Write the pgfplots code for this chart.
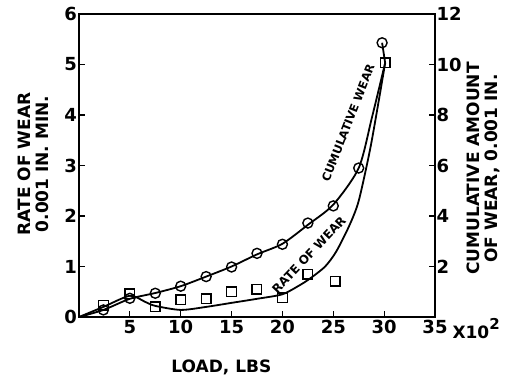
\documentclass[border=0pt]{standalone}
\usepackage{fontspec}
\setmainfont{DejaVu Sans}
\usepackage{pgfplots}
\pgfplotsset{compat=1.18}
\begin{document}
\begin{tikzpicture}
\path[use as bounding box] (-79pt,-60pt) rectangle (441pt,317pt);
\pgfplotsset{
  every axis/.append style={
    scale only axis, width=356pt, height=303pt, at={(0pt,0pt)}, anchor=south west,
    xmin=0, xmax=35, clip=false,
    axis line style={line width=2.2pt, black},
    tick style={line width=1.2pt, black}, major tick length=6pt, tick align=inside,
    /pgf/number format/assume math mode=true,
    tick label style={font=\fontsize{18}{18}\selectfont\bfseries},
    label style={font=\fontsize{17}{18}\selectfont\bfseries},
  },
  curve/.style={black, line width=1.8pt, smooth, tension=0.45, no marks},
}
% ---- left axis: rate of wear ----
\begin{axis}[
  ymin=0, ymax=6, ytick={0,...,6}, ytick pos=left,
  xtick={5,10,...,35}, xtick pos=bottom,
  yticklabel style={inner sep=2pt},
  xticklabel style={inner sep=3pt},
  xlabel={LOAD, LBS},
  xlabel style={at={(axis description cs:0.40,-0.165)}, anchor=center},
  ylabel={RATE OF WEAR\\0.001 IN. MIN.},
  ylabel style={at={(axis description cs:-0.128,0.505)}, anchor=center, rotate=0, align=center},
]
\addplot[curve] coordinates {
  (0,0) (2.4,0.2) (5,0.42) (6.5,0.3) (7.5,0.22) (10,0.14) (12.5,0.2) (15,0.28)
  (17.5,0.36) (20,0.45) (21.7,0.63) (22.7,0.76) (24.2,1.0) (25.3,1.3) (26.6,1.82)
  (27.5,2.3) (28.6,3.3) (29.4,4.2) (30.1,5.03)};
\addplot[only marks, mark=square, mark size=4.8pt, line width=1.4pt, mark options={fill=white}] coordinates {
  (2.4,0.23) (5,0.46) (7.5,0.2) (10,0.34) (12.5,0.36) (15,0.5) (17.5,0.55)
  (20,0.38) (22.5,0.85) (25.2,0.71) (30.1,5.03)};
\node[rotate=68.6, font=\fontsize{11.5}{11.5}\selectfont\bfseries] at (axis cs:26.45,3.84) {CUMULATIVE WEAR};
\node[rotate=46.5, font=\fontsize{12}{12}\selectfont\bfseries] at (axis cs:22.6,1.23) {RATE OF WEAR};
\node[anchor=base west, font=\fontsize{17}{17}\selectfont\bfseries] at (axis description cs:1,0) [xshift=14pt, yshift=-22pt] {X10\raisebox{0.55em}{\fontsize{15}{15}\selectfont 2}};
\end{axis}
% ---- right axis: cumulative amount of wear ----
\begin{axis}[
  ymin=0, ymax=12, ytick={2,4,...,12}, axis y line*=right, axis x line=none,
  yticklabel style={inner sep=1.5pt},
  ylabel={CUMULATIVE AMOUNT\\OF WEAR, 0.001 IN.},
  ylabel style={at={(axis description cs:1.135,0.49)}, anchor=center, rotate=0, align=center},
]
\addplot[curve] coordinates {
  (0,0) (2.4,0.28) (5,0.72) (7.5,0.95) (10,1.22) (12.5,1.6) (15,2.0) (17.5,2.48)
  (20,2.9) (22.5,3.65) (25,4.45) (27.5,5.9) (28.8,7.9) (30.1,10.06)};
\addplot[black, line width=1.8pt, no marks] coordinates {(30.1,10.06) (29.8,10.86)};
\addplot[only marks, mark=o, mark size=5pt, line width=1.4pt, mark options={fill=white}] coordinates {
  (2.4,0.28) (5,0.74) (7.5,0.94) (10,1.22) (12.5,1.6) (15,1.98) (17.5,2.52)
  (20,2.88) (22.5,3.72) (25,4.4) (27.5,5.9) (29.8,10.86)};
\end{axis}
\end{tikzpicture}
\end{document}
